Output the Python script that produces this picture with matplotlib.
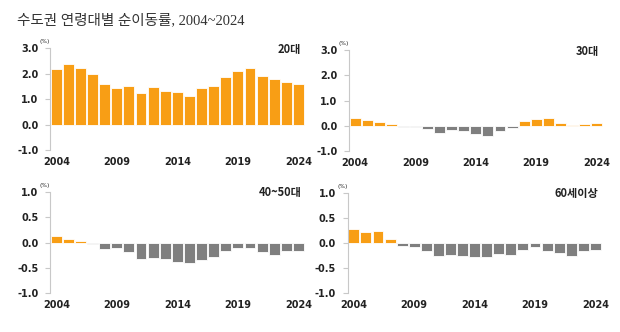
import matplotlib.pyplot as plt
import numpy as np

plt.rcParams['axes.unicode_minus'] = False

years = list(range(2004, 2025))

rate_20s = [2.18, 2.37, 2.24, 2.00, 1.59, 1.42, 1.50, 1.23, 1.48, 1.31, 1.29,
            1.14, 1.45, 1.53, 1.86, 2.09, 2.24, 1.92, 1.79, 1.66, 1.61]
rate_30s = [0.32, 0.22, 0.16, 0.07, -0.05, -0.06, -0.13, -0.27, -0.17, -0.20, -0.33,
            -0.40, -0.22, -0.08, 0.18, 0.27, 0.31, 0.13, 0.03, 0.08, 0.10]
rate_40_50s = [0.12, 0.06, 0.03, -0.03, -0.13, -0.11, -0.18, -0.32, -0.30, -0.32, -0.38,
               -0.40, -0.34, -0.28, -0.16, -0.10, -0.10, -0.18, -0.24, -0.17, -0.16]
rate_60plus = [0.27, 0.22, 0.23, 0.09, -0.05, -0.07, -0.15, -0.25, -0.24, -0.25, -0.28,
               -0.27, -0.22, -0.24, -0.13, -0.08, -0.15, -0.19, -0.26, -0.15, -0.13]

panel_names = ['20대', '30대', '40~50대', '60세이상']
year_ticks = [2004, 2009, 2014, 2019, 2024]
yticks_top = [-1.0, 0.0, 1.0, 2.0, 3.0]
yticks_bottom = [-1.0, -0.5, 0.0, 0.5, 1.0]

ORANGE = '#F89E15'
GRAY = '#7F7F7F'
TEXT = '#222222'

fig = plt.figure(figsize=(6.2, 3.32), dpi=100)

fig.text(0.027, 0.938, '수도권 연령대별 순이동률, 2004~2024', fontsize=10.5,
         family=['Liberation Serif', 'Noto Sans CJK KR'], color='#333333',
         ha='left', va='center')

boxes = [
    [0.081, 0.548, 0.411, 0.307],
    [0.563, 0.545, 0.410, 0.304],
    [0.081, 0.117, 0.411, 0.305],
    [0.561, 0.117, 0.410, 0.302],
]
series = [rate_20s, rate_30s, rate_40_50s, rate_60plus]
yticks_all = [yticks_top, yticks_top, yticks_bottom, yticks_bottom]

for box, vals, name, yt in zip(boxes, series, panel_names, yticks_all):
    ax = fig.add_axes(box)
    vals = np.array(vals)
    colors = [ORANGE if v >= 0 else GRAY for v in vals]
    ax.bar(years, vals, width=0.9, color=colors, edgecolor='white', linewidth=0.6)

    ax.set_ylim(yt[0], yt[-1])
    ax.set_xlim(2003.5, 2024.55)
    ax.set_yticks(yt)
    ax.set_yticklabels([f'{v:.1f}' for v in yt])
    ax.set_xticks(year_ticks)
    ax.set_xticklabels([str(y) for y in year_ticks])

    for side in ['top', 'right', 'bottom']:
        ax.spines[side].set_visible(False)
    ax.spines['left'].set_color('#C8C8C8')
    ax.spines['left'].set_linewidth(0.8)

    ax.tick_params(axis='y', length=3.5, width=0.8, color='#C8C8C8', pad=5,
                   labelsize=7, labelcolor=TEXT)
    ax.tick_params(axis='x', length=0, pad=5, labelsize=7, labelcolor=TEXT)
    for lbl in ax.get_xticklabels() + ax.get_yticklabels():
        lbl.set_fontweight('bold')

    ax.text(-0.02, 1.04, '(%)', transform=ax.transAxes, fontsize=4.2,
            color=TEXT, ha='center', va='bottom')
    # age-group label sits level with the top tick
    ax.text(0.985, 0.99, name, transform=ax.transAxes, fontsize=8,
            family=['Noto Sans CJK KR'], fontweight='bold', color=TEXT,
            ha='right', va='center')

plt.savefig('out.png', dpi=100)
